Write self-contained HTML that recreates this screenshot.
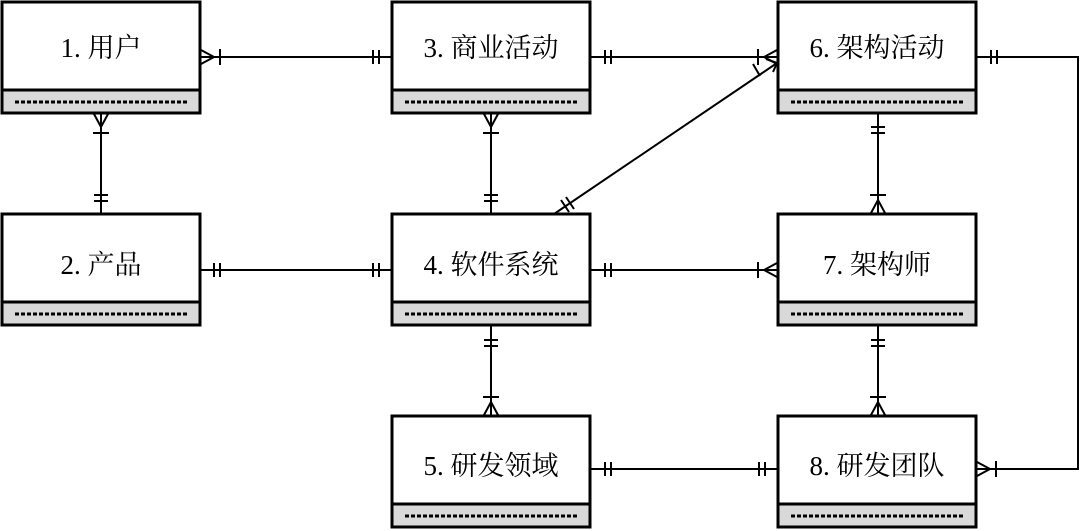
<!DOCTYPE html>
<html><head><meta charset="utf-8"><style>
html,body{margin:0;padding:0;background:#fff;}
svg{display:block;}
text{font-family:"Liberation Serif","Noto Serif CJK SC",serif;font-size:27px;fill:#000;}
</style></head><body>
<svg width="1080" height="531" viewBox="0 0 1080 531" xmlns="http://www.w3.org/2000/svg">
<defs>
<g id="box">
<rect x="0" y="0" width="198" height="111" fill="#fff" stroke="#000" stroke-width="3"/>
<rect x="0" y="88" width="198" height="23" fill="#d9d9d9" stroke="#000" stroke-width="3"/>
<line x1="13" y1="100" x2="186" y2="100" stroke="#000" stroke-width="3" stroke-dasharray="4,2"/>
</g>
</defs>
<use href="#box" x="2" y="2"/>
<use href="#box" x="392" y="2"/>
<use href="#box" x="778" y="2"/>
<use href="#box" x="2" y="214"/>
<use href="#box" x="392" y="214"/>
<use href="#box" x="778" y="214"/>
<use href="#box" x="392" y="416"/>
<use href="#box" x="778" y="416"/>
<text x="101" y="57" text-anchor="middle">1. 用户</text>
<text x="491" y="57" text-anchor="middle">3. 商业活动</text>
<text x="877" y="57" text-anchor="middle">6. 架构活动</text>
<text x="101" y="274" text-anchor="middle">2. 产品</text>
<text x="491" y="274" text-anchor="middle">4. 软件系统</text>
<text x="877" y="274" text-anchor="middle">7. 架构师</text>
<text x="491" y="475" text-anchor="middle">5. 研发领域</text>
<text x="877" y="475" text-anchor="middle">8. 研发团队</text>
<g stroke="#000" stroke-width="2" fill="none">
<!-- 1-3 -->
<line x1="201" y1="57" x2="391" y2="57"/>
<path d="M201,50 L214,57 L201,64"/><line x1="220" y1="49" x2="220" y2="65"/>
<line x1="373" y1="50" x2="373" y2="64"/><line x1="379" y1="50" x2="379" y2="64"/>
<!-- 1-2 -->
<line x1="101" y1="114" x2="101" y2="213"/>
<path d="M94,114 L101,127 L108,114"/><line x1="93" y1="133" x2="109" y2="133"/>
<line x1="94" y1="195" x2="108" y2="195"/><line x1="94" y1="201" x2="108" y2="201"/>
<!-- 3-6 -->
<line x1="591" y1="57" x2="777" y2="57"/>
<line x1="605" y1="50" x2="605" y2="64"/><line x1="611" y1="50" x2="611" y2="64"/>
<path d="M777,50 L764,57 L777,64"/><line x1="758" y1="49" x2="758" y2="65"/>
<!-- 3-4 -->
<line x1="491" y1="114" x2="491" y2="213"/>
<path d="M484,114 L491,127 L498,114"/><line x1="483" y1="133" x2="499" y2="133"/>
<line x1="484" y1="195" x2="498" y2="195"/><line x1="484" y1="201" x2="498" y2="201"/>
<!-- diagonal 4-6 -->
<line x1="554" y1="214" x2="777" y2="63"/>
<line x1="561" y1="200" x2="569" y2="212"/><line x1="566" y1="197" x2="574" y2="209"/>
<path d="M766,59 L777,63 L773,72"/><line x1="753" y1="64" x2="760" y2="76"/>
<!-- 6 right to 8 -->
<polyline points="977,57 1078,57 1078,469 977,469"/>
<line x1="991" y1="50" x2="991" y2="64"/><line x1="997" y1="50" x2="997" y2="64"/>
<path d="M977,462 L990,469 L977,476"/><line x1="996" y1="461" x2="996" y2="477"/>
<!-- 2-4 -->
<line x1="201" y1="270" x2="391" y2="270"/>
<line x1="214" y1="263" x2="214" y2="277"/><line x1="220" y1="263" x2="220" y2="277"/>
<line x1="373" y1="263" x2="373" y2="277"/><line x1="379" y1="263" x2="379" y2="277"/>
<!-- 4-7 -->
<line x1="591" y1="270" x2="777" y2="270"/>
<line x1="605" y1="263" x2="605" y2="277"/><line x1="611" y1="263" x2="611" y2="277"/>
<path d="M777,263 L764,270 L777,277"/><line x1="758" y1="262" x2="758" y2="278"/>
<!-- 6-7 -->
<line x1="878" y1="114" x2="878" y2="213"/>
<line x1="871" y1="127" x2="885" y2="127"/><line x1="871" y1="133" x2="885" y2="133"/>
<path d="M871,213 L878,200 L885,213"/><line x1="870" y1="195" x2="886" y2="195"/>
<!-- 4-5 -->
<line x1="491" y1="326" x2="491" y2="415"/>
<line x1="484" y1="340" x2="498" y2="340"/><line x1="484" y1="346" x2="498" y2="346"/>
<path d="M484,415 L491,402 L498,415"/><line x1="483" y1="397" x2="499" y2="397"/>
<!-- 7-8 -->
<line x1="878" y1="326" x2="878" y2="415"/>
<line x1="871" y1="340" x2="885" y2="340"/><line x1="871" y1="346" x2="885" y2="346"/>
<path d="M871,415 L878,402 L885,415"/><line x1="870" y1="397" x2="886" y2="397"/>
<!-- 5-8 -->
<line x1="591" y1="469" x2="777" y2="469"/>
<line x1="605" y1="462" x2="605" y2="476"/><line x1="611" y1="462" x2="611" y2="476"/>
<line x1="759" y1="462" x2="759" y2="476"/><line x1="765" y1="462" x2="765" y2="476"/>
</g>
</svg>
</body></html>
